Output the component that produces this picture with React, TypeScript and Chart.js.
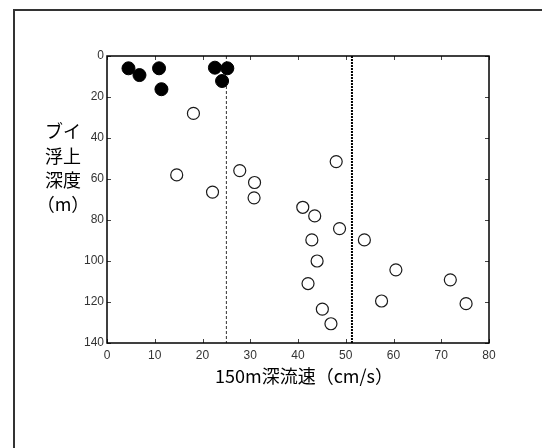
import React, { useEffect, useRef } from "react";
import { Chart, registerables } from "chart.js";

Chart.register(...registerables);

// Data
const filledSpeed = [4.5, 6.8, 10.9, 11.4, 22.6, 25.2, 24.1];
const filledDepth = [6.0, 9.3, 6.0, 16.2, 5.7, 6.0, 12.2];
const openSpeed = [18.1, 14.6, 22.1, 27.8, 30.9, 30.8, 48.0, 41.0, 43.5, 48.7, 42.9, 53.9, 44.0, 60.5, 42.1, 71.9, 57.5, 75.2, 45.1, 46.9];
const openDepth = [28, 58, 66.4, 55.9, 61.7, 69.2, 51.5, 73.8, 78, 84.2, 89.7, 89.7, 100, 104.3, 111, 109.2, 119.5, 120.8, 123.5, 130.6];
const dashedLineX = 25;
const dottedLineX = 51.3;
const xRange = [0, 80];
const yRange = [0, 140];
const xStep = 10;
const yStep = 20;
const xTitle = "150m深流速（cm/s）";
const yTitleLines = ["ブイ", "浮上", "深度", "（m）"];

const decorPlugin = {
  id: "decor",
  beforeDraw(chart: any) {
    const ctx = chart.ctx;
    ctx.save();
    ctx.fillStyle = "#ffffff";
    ctx.fillRect(0, 0, chart.width, chart.height);
    ctx.strokeStyle = "#333333";
    ctx.lineWidth = 2;
    ctx.strokeRect(14, 10, 540, 450);
    ctx.restore();
  },
  afterDatasetsDraw(chart: any) {
    const ctx = chart.ctx;
    const { left, right, top, bottom } = chart.chartArea;
    const xs = chart.scales.x;
    const ys = chart.scales.y;
    ctx.save();
    ctx.strokeStyle = "#444444";
    ctx.lineWidth = 1;
    const tl = 4;
    ctx.beginPath();
    xs.ticks.forEach((t: any) => {
      const px = Math.round(xs.getPixelForValue(t.value)) + 0.5;
      ctx.moveTo(px, bottom);
      ctx.lineTo(px, bottom - tl);
      ctx.moveTo(px, top);
      ctx.lineTo(px, top + tl);
    });
    ys.ticks.forEach((t: any) => {
      const py = Math.round(ys.getPixelForValue(t.value)) + 0.5;
      ctx.moveTo(left, py);
      ctx.lineTo(left + tl, py);
      ctx.moveTo(right, py);
      ctx.lineTo(right - tl, py);
    });
    ctx.stroke();
    ctx.strokeStyle = "#000000";
    ctx.lineWidth = 1.5;
    ctx.strokeRect(left, top, right - left, bottom - top);
    ctx.fillStyle = "#000000";
    ctx.font = "18px 'Noto Sans CJK JP', 'Noto Sans', sans-serif";
    ctx.textAlign = "center";
    ctx.textBaseline = "middle";
    ctx.fillText(xTitle, 304, 376);
    const yc = [131, 156, 180, 204];
    yTitleLines.forEach((s, i) => ctx.fillText(s, 63, yc[i]));
    ctx.restore();
  },
};

export default function App() {
  const ref = useRef<HTMLCanvasElement | null>(null);
  useEffect(() => {
    if (!ref.current) return;
    const chart = new Chart(ref.current, {
      type: "scatter",
      data: {
        datasets: [
          {
            label: "filled",
            data: filledSpeed.map((x, i) => ({ x, y: filledDepth[i] })),
            backgroundColor: "#000000",
            borderColor: "#000000",
            borderWidth: 1,
            pointRadius: 6.5,
            order: 1,
          },
          {
            label: "open",
            data: openSpeed.map((x, i) => ({ x, y: openDepth[i] })),
            backgroundColor: "#ffffff",
            borderColor: "#1a1a1a",
            borderWidth: 1.2,
            pointRadius: 6,
            order: 1,
          },
          {
            type: "line",
            label: "dashed",
            data: [
              { x: dashedLineX, y: yRange[0] },
              { x: dashedLineX, y: yRange[1] },
            ],
            borderColor: "#333333",
            borderWidth: 1,
            borderDash: [3, 2],
            pointRadius: 0,
            showLine: true,
            order: 2,
          } as any,
          {
            type: "line",
            label: "dotted",
            data: [
              { x: dottedLineX, y: yRange[0] },
              { x: dottedLineX, y: yRange[1] },
            ],
            borderColor: "#000000",
            borderWidth: 2,
            borderDash: [2, 1],
            pointRadius: 0,
            showLine: true,
            order: 2,
          } as any,
        ],
      },
      options: {
        responsive: false,
        animation: false,
        layout: { padding: { left: 0, top: 56, right: 53, bottom: 0 } },
        plugins: { legend: { display: false }, tooltip: { enabled: false } },
        scales: {
          x: {
            type: "linear",
            position: "bottom",
            min: xRange[0],
            max: xRange[1],
            ticks: {
              stepSize: xStep,
              color: "#333333",
              font: { size: 12, family: "'Liberation Sans', Arial, sans-serif" },
              padding: 5,
              maxRotation: 0,
            },
            grid: { display: false, drawTicks: false },
            border: { display: false },
            afterFit: (s: any) => {
              s.height = 105;
            },
          },
          y: {
            type: "linear",
            reverse: true,
            min: yRange[0],
            max: yRange[1],
            ticks: {
              stepSize: yStep,
              color: "#333333",
              font: { size: 12, family: "'Liberation Sans', Arial, sans-serif" },
              padding: 3,
            },
            grid: { display: false, drawTicks: false },
            border: { display: false },
            afterFit: (s: any) => {
              s.width = 107;
            },
          },
        },
      },
      plugins: [decorPlugin],
    } as any);
    return () => chart.destroy();
  }, []);
  return (
    <div style={{ position: "absolute", left: 0, top: 0, width: 542, height: 448 }}>
      <canvas ref={ref} width={542} height={448} />
    </div>
  );
}
